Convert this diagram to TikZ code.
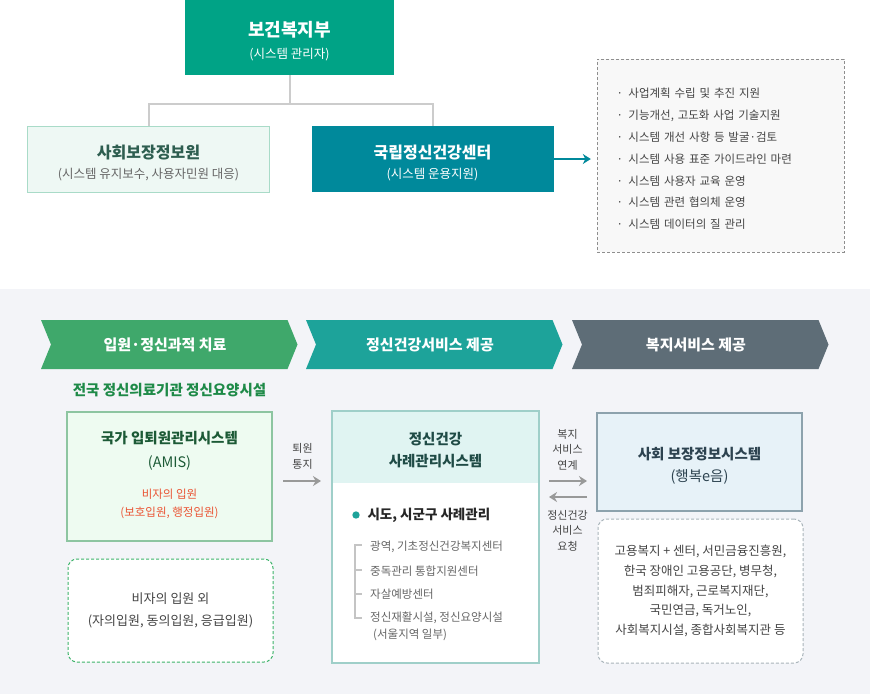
\documentclass[tikz,border=0pt]{standalone}
\usepackage{fontspec}
\setmainfont{Noto Sans CJK KR}
\usetikzlibrary{positioning,arrows.meta}

\definecolor{mohwGreen}{HTML}{00A386}
\definecolor{ncmhTeal}{HTML}{00899B}
\definecolor{ssisFill}{HTML}{EEF8F4}
\definecolor{ssisLine}{HTML}{A9DBC8}
\definecolor{ssisText}{HTML}{2E5E50}
\definecolor{lineGray}{HTML}{CCCCCC}
\definecolor{taskFill}{HTML}{F8F8F8}
\definecolor{dashGray}{HTML}{8E8E8E}
\definecolor{txtDark}{HTML}{444444}
\definecolor{txtGray}{HTML}{666666}
\definecolor{bgGray}{HTML}{F3F4F8}
\definecolor{phaseA}{HTML}{3FA86B}
\definecolor{phaseB}{HTML}{1DA39A}
\definecolor{phaseC}{HTML}{5E6D77}
\definecolor{nationGreen}{HTML}{1E8A48}
\definecolor{amisFill}{HTML}{EEFBF1}
\definecolor{amisLine}{HTML}{8DC5A1}
\definecolor{amisText}{HTML}{1C5A36}
\definecolor{amisRed}{HTML}{EA5434}
\definecolor{amisDash}{HTML}{3DB36A}
\definecolor{cmsLine}{HTML}{9FCFC9}
\definecolor{cmsHead}{HTML}{E0F4F2}
\definecolor{cmsText}{HTML}{1F4B46}
\definecolor{treeGray}{HTML}{C4C4C4}
\definecolor{arrowGray}{HTML}{999999}
\definecolor{pssFill}{HTML}{E7F2F8}
\definecolor{pssLine}{HTML}{8DA2AD}
\definecolor{pssText}{HTML}{2D4350}
\definecolor{pssDash}{HTML}{A9B4BA}

\newcommand{\pxfont}[2]{\fontsize{#1}{#2}\selectfont}

\begin{document}
\begin{tikzpicture}[
    x=1pt, y=-1pt,
    node distance=6pt,
    >={Stealth[length=8pt,width=10pt]},
    orgline/.style={draw=lineGray, line width=2pt},
    flow/.style={->, draw=arrowGray, line width=2pt},
    boxtext/.style={align=center, inner sep=0pt, yshift=-4pt},
    headbox/.style={fill=mohwGreen, minimum width=209pt, minimum height=75pt, inner sep=0pt},
    subbox/.style={minimum width=242pt, minimum height=66pt, inner sep=0pt},
    taskbox/.style={draw=dashGray, dash pattern=on 3pt off 2pt, fill=taskFill,
                    minimum width=247pt, minimum height=193pt, inner sep=0pt},
    tasklist/.style={text width=208pt, align=left, inner sep=0pt, text=txtDark,
                     font=\pxfont{11.5}{21.8}},
    phase/.style={text=white, font=\pxfont{15}{16}\bfseries},
    sysbox/.style={minimum width=205pt, line width=2pt, inner sep=0pt},
    notebox/.style={minimum width=205pt, rounded corners=9pt, fill=white,
                    dash pattern=on 3pt off 2pt, line width=1pt, align=center,
                    inner sep=0pt, text=txtDark},
    sidelabel/.style={align=center, text=txtDark, font=\pxfont{11}{15.5}, inner sep=0pt},
    item/.style={anchor=west, text=txtGray, font=\pxfont{11.5}{17}, inner sep=0pt}
]
\useasboundingbox (0,0) rectangle (870,694);
\fill[white] (0,0) rectangle (870,289);
\fill[bgGray] (0,289) rectangle (870,694);

% organisation
\node[headbox] (mohw) at (289.5,37.5) {};
\node[boxtext, text=white, font=\pxfont{12.5}{22}] (mohwT) at (mohw)
    {{\pxfont{18}{22}\bfseries 보건복지부}\\(시스템 관리자)};
\node[subbox, fill=ssisFill, draw=ssisLine, line width=1pt] (ssis) at (148.5,159) {};
\node[boxtext, text=txtGray, font=\pxfont{12.5}{19.5}] (ssisT) at (ssis)
    {{\pxfont{16}{19.5}\bfseries\color{ssisText}사회보장정보원}\\(시스템 유지보수, 사용자민원 대응)};
\node[subbox, fill=ncmhTeal] (ncmh) at (432.5,159) {};
\node[boxtext, text=white, font=\pxfont{12.5}{19.5}] (ncmhT) at (ncmh)
    {{\pxfont{16}{19.5}\bfseries 국립정신건강센터}\\(시스템 운용지원)};

\coordinate (fork) at (289.5,104);
\draw[orgline] (mohw.south) -- (fork);
\draw[orgline] (fork) -| (ssis.north);
\draw[orgline] (fork) -| (ncmh.north);

\node[taskbox] (tasks) at (720.5,155.5) {};
\node[tasklist, yshift=-3.5pt] (taskList) at (tasks)
    {·\hspace{5.5pt}사업계획 수립 및 추진 지원\\
     ·\hspace{5.5pt}기능개선, 고도화 사업 기술지원\\
     ·\hspace{5.5pt}시스템 개선 사항 등 발굴·검토\\
     ·\hspace{5.5pt}시스템 사용 표준 가이드라인 마련\\
     ·\hspace{5.5pt}시스템 사용자 교육 운영\\
     ·\hspace{5.5pt}시스템 관련 협의체 운영\\
     ·\hspace{5.5pt}시스템 데이터의 질 관리};
\draw[->, draw=ncmhTeal, line width=2pt, shorten >=6pt] (ncmh.east) -- (ncmh.east -| tasks.west);

% phases
\foreach \xa/\col/\lbl [count=\i] in {41/phaseA/입원·정신과적 치료, 306/phaseB/정신건강서비스 제공, 572/phaseC/복지서비스 제공}{
    \fill[\col] (\xa,320) -- ++(246.5,0) -- ++(10,24.5) -- ++(-10,24.5)
        -- ++(-246.5,0) -- ++(10,-24.5) -- cycle;
    \node[phase] (phase\i) at (\xa+124,344.5) {\lbl};
}

% admission column
\node[sysbox, minimum height=129pt, fill=amisFill, draw=amisLine] (amis) at (169.5,476.5) {};
\node[text=nationGreen, font=\pxfont{14.5}{16}\bfseries] (nation) at (169.5,390) {전국 정신의료기관 정신요양시설};
\node[align=center, text=amisText, font=\pxfont{14.5}{24}\bfseries] (amisT) at (169.5,451)
    {국가 입퇴원관리시스템\\{\mdseries (AMIS)}};
\node[align=center, text=amisRed, font=\pxfont{11.5}{18}] (amisR) at (169.5,504)
    {비자의 입원\\(보호입원, 행정입원)};
\node[notebox, draw=amisDash, minimum height=103pt, font=\pxfont{13}{22}] (amisNote) at (170.5,610.5)
    {비자의 입원 외\\(자의입원, 동의입원, 응급입원)};

% case management column
\node[sysbox, minimum height=250pt, fill=white] (cms) at (435.5,537) {};
\fill[cmsHead] (cms.north west) rectangle ([yshift=-72pt]cms.north east);
\draw[cmsLine, line width=2pt] (cms.north west) rectangle (cms.south east);
\node[align=center, text=cmsText, font=\pxfont{14.5}{22}\bfseries] (cmsT) at (435.5,450)
    {정신건강\\사례관리시스템};
\node[circle, fill=phaseB, inner sep=2.6pt] (dot) at (356,515) {};
\node[anchor=west, font=\pxfont{13.5}{16}\bfseries, text=black!85] (region) at (364,515) {시도, 시군구 사례관리};
\foreach \y/\t [count=\i] in {547/{광역, 기초정신건강복지센터}, 571/중독관리 통합지원센터, 594/자살예방센터}{
    \node[item] (item\i) at (370,\y) {\t};
}
\node[item, align=left] (item4) at (370,626.5) {정신재활시설, 정신요양시설\\\hspace{3pt}(서울지역 일부)};
\draw[treeGray, line width=1.5pt] (355,545) -- (355,618);
\foreach \y in {545,570,594,618}
    \draw[treeGray, line width=1.5pt] (354.25,\y) -- (362,\y);

% welfare column
\node[sysbox, minimum height=98pt, fill=pssFill, draw=pssLine] (pss) at (699.5,462) {};
\node[boxtext, text=pssText, font=\pxfont{14.5}{22}] (pssT) at (pss)
    {{\bfseries 사회 보장정보시스템}\\(행복e음)};
\node[notebox, draw=pssDash, minimum height=144pt, font=\pxfont{12.5}{19.7}] (pssNote) at (700.5,591)
    {고용복지 + 센터, 서민금융진흥원,\\한국 장애인 고용공단, 병무청,\\범죄피해자, 근로복지재단,\\국민연금, 독거노인,\\사회복지시설, 종합사회복지관 등};

% links between systems
\draw[flow, shorten <=10pt, shorten >=11pt] ([yshift=-4.5pt]amis.east) -- ([yshift=-4.5pt]amis.east -| cms.west)
    node[sidelabel, midway, above=11pt] (outNote) {퇴원\\통지};
\draw[flow, shorten <=10pt, shorten >=9pt] ([yshift=-19pt]pss.west -| cms.east) -- ([yshift=-19pt]pss.west)
    node[sidelabel, midway, above=10pt] (linkNote) {복지\\서비스\\연계};
\draw[flow, shorten <=9pt, shorten >=10pt] ([yshift=-35pt]pss.west) -- ([yshift=-35pt]pss.west -| cms.east)
    node[sidelabel, midway, below=12pt] (reqNote) {정신건강\\서비스\\요청};

\end{tikzpicture}
\end{document}
